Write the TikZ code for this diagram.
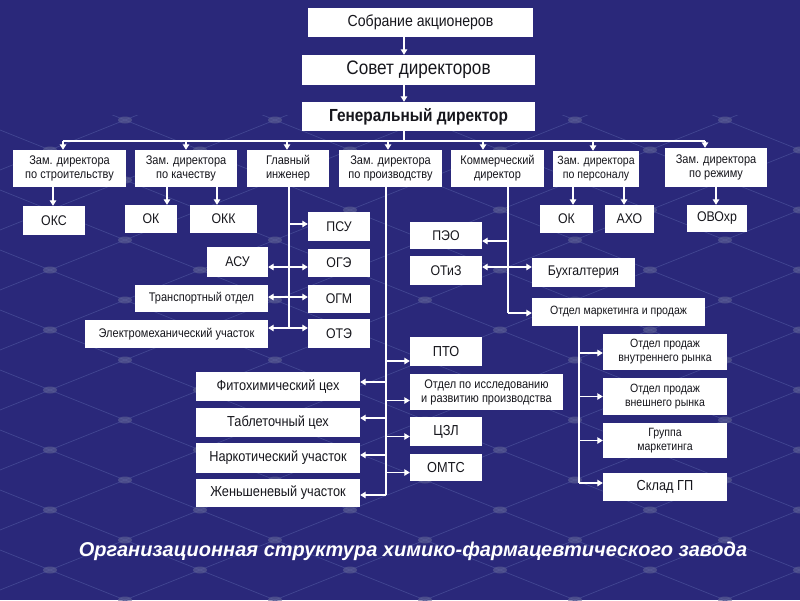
\documentclass[tikz,border=0pt]{standalone}
\usepackage{fontspec}
\setmainfont{Liberation Sans}
\newfontfamily\boxfont{Liberation Sans}[FakeStretch=0.88]
\usetikzlibrary{arrows.meta,calc}
\definecolor{bg}{RGB}{42,40,122}
\definecolor{netc}{RGB}{70,74,150}
\definecolor{dotc}{RGB}{96,100,150}
\definecolor{ink}{RGB}{22,22,28}
\newcommand\fs[2]{\boxfont\fontsize{#1}{#2}\selectfont}
\newcommand\bx[7]{\node[box,font={#2},minimum width={#5-#3},minimum height={#6-#4}] (#1) at ({(#3+#5)/2},{(#4+#6)/2}) {#7};}
\newcommand\hl[4]{\draw[#1] ($(#2 |- #3)+(0,#4)$) -- ($(#3)+(0,#4)$);}
\tikzset{
  box/.style={fill=white, inner sep=0.5pt, align=center, text=ink},
  ln/.style={draw=white, line width=1.1pt},
  arr/.style={ln, -{Triangle[length=5.5pt,width=6.5pt]}},
  darr/.style={ln, {Triangle[length=5.5pt,width=6.5pt]}-{Triangle[length=5.5pt,width=6.5pt]}},
  netline/.style={draw=netc, line width=0.6pt},
}
\begin{document}
\begin{tikzpicture}[x=1pt,y=-1pt]
\fill[bg] (0,0) rectangle (800,600);
\useasboundingbox (0,0) rectangle (800,600);
% background net
\begin{scope}
\clip (0,115) rectangle (800,600);
\foreach \i in {0,...,20} {
  \draw[netline] ({-1400+150*\i},110) -- ++(1500,600);
  \draw[netline] ({-600+150*\i},110) -- ++(-1500,600);
}
\foreach \k in {-5,...,16} {
  \foreach \n in {13,...,24} {
    \pgfmathtruncatemacro\pty{mod(\n+\k+20,2)}
    \ifnum\pty=0
      \fill[dotc, opacity=0.6] ({-1000+75*\n},{270+30*\k}) ellipse (7 and 3.5);
    \fi
  }
}
\end{scope}
% top chain
\bx{sob}{\fs{16}{19}}{308}{8}{533}{37}{Собрание акционеров}
\bx{sov}{\fs{19.5}{22}}{302}{55}{535}{85}{Совет директоров}
\bx{gd}{\fs{17.5}{20}\bfseries}{302}{102}{535}{131}{Генеральный директор}
% level 2
\bx{zs}{\fs{12.5}{14}}{13}{150}{126}{187}{Зам. директора\\по строительству}
\bx{zk}{\fs{12.5}{14}}{135}{150}{237}{187}{Зам. директора\\по качеству}
\bx{gi}{\fs{12.5}{14}}{247}{150}{329}{187}{Главный\\инженер}
\bx{zp}{\fs{12.5}{14}}{339}{150}{442}{187}{Зам. директора\\по производству}
\bx{kd}{\fs{12.5}{14}}{451}{150}{544}{187}{Коммерческий\\директор}
\bx{zpe}{\fs{12}{14}}{553}{151}{639}{187}{Зам. директора\\по персоналу}
\bx{zr}{\fs{12.5}{14}}{665}{148}{767}{187}{Зам. директора\\по режиму}
% level 3
\bx{oks}{\fs{14}{16}}{23}{206}{85}{235}{ОКС}
\bx{ok1}{\fs{14}{16}}{125}{205}{177}{233}{ОК}
\bx{okk}{\fs{14}{16}}{190}{205}{257}{233}{ОКК}
\bx{ok2}{\fs{14}{16}}{540}{205}{593}{233}{ОК}
\bx{axo}{\fs{14}{16}}{605}{205}{654}{233}{АХО}
\bx{ovo}{\fs{14}{16}}{687}{205}{747}{232}{ОВОхр}
% chief engineer
\bx{psu}{\fs{14}{16}}{308}{212}{370}{241}{ПСУ}
\bx{oge}{\fs{14}{16}}{308}{249}{370}{277}{ОГЭ}
\bx{ogm}{\fs{14}{16}}{308}{285}{370}{313}{ОГМ}
\bx{ote}{\fs{14}{16}}{308}{319}{370}{348}{ОТЭ}
\bx{asu}{\fs{14}{16}}{207}{247}{268}{277}{АСУ}
\bx{trans}{\fs{12.5}{14}}{135}{285}{268}{312}{Транспортный отдел}
\bx{elm}{\fs{12.5}{14}}{85}{320}{268}{348}{Электромеханический участок}
% production
\bx{pto}{\fs{14.5}{16}}{410}{337}{482}{366}{ПТО}
\bx{ord}{\fs{12.5}{14}}{410}{374}{563}{410}{Отдел по исследованию\\и развитию производства}
\bx{czl}{\fs{14.5}{16}}{410}{417}{482}{446}{ЦЗЛ}
\bx{omts}{\fs{14.5}{16}}{410}{454}{482}{481}{ОМТС}
\bx{fito}{\fs{14.5}{16}}{196}{372}{360}{401}{Фитохимический цех}
\bx{tab}{\fs{14.5}{16}}{196}{408}{360}{437}{Таблеточный цех}
\bx{nark}{\fs{14.5}{16}}{196}{443}{360}{473}{Наркотический участок}
\bx{zhen}{\fs{14.5}{16}}{196}{479}{360}{507}{Женьшеневый участок}
% commercial
\bx{peo}{\fs{14}{16}}{410}{222}{482}{249}{ПЭО}
\bx{otiz}{\fs{14}{16}}{410}{256}{482}{285}{ОТиЗ}
\bx{buh}{\fs{14}{16}}{532}{258}{635}{287}{Бухгалтерия}
\bx{mkt}{\fs{12}{14}}{532}{298}{705}{326}{Отдел маркетинга и продаж}
\bx{vnu}{\fs{12}{14}}{603}{334}{727}{370}{Отдел продаж\\внутреннего рынка}
\bx{vne}{\fs{12}{14}}{603}{378}{727}{415}{Отдел продаж\\внешнего рынка}
\bx{grp}{\fs{12}{14}}{603}{423}{727}{458}{Группа\\маркетинга}
\bx{skl}{\fs{14.5}{16}}{603}{473}{727}{501}{Склад ГП}
% title
\node[font=\fontsize{20}{24}\selectfont\bfseries\itshape, text=white] (title) at (413,551) {Организационная структура химико-фармацевтического завода};
% coordinates
\coordinate (tx) at (404,0);
\coordinate (b1) at (63,141);
\coordinate (b2) at (186,141);
\coordinate (b3) at (287,141);
\coordinate (b4) at (388,141);
\coordinate (b5) at (483,141);
\coordinate (b6) at (593,141);
\coordinate (b7) at (705,141);
\coordinate (c1) at (53,0);
\coordinate (c2) at (167,0);
\coordinate (c3) at (217,0);
\coordinate (c4) at (573,0);
\coordinate (c5) at (624,0);
\coordinate (c6) at (716,0);
\coordinate (gx) at (289,328);
\coordinate (px) at (386,495);
\coordinate (kx) at (508,313);
\coordinate (mx) at (579,483);
% top connectors
\draw[arr] (tx |- sob.south) -- (tx |- sov.north);
\draw[arr] (tx |- sov.south) -- (tx |- gd.north);
\draw[ln] (tx |- gd.south) -- (tx |- b1);
\draw[ln] (b1) -- (b7);
\draw[arr] (b1) -- (b1 |- zs.north);
\draw[arr] (b2) -- (b2 |- zk.north);
\draw[arr] (b3) -- (b3 |- gi.north);
\draw[arr] (b4) -- (b4 |- zp.north);
\draw[arr] (b5) -- (b5 |- kd.north);
\draw[arr] (b6) -- (b6 |- zpe.north);
\draw[arr] (b7) -- (b7 |- zr.north);
% level 3 connectors
\draw[arr] (c1 |- zs.south) -- (c1 |- oks.north);
\draw[arr] (c2 |- zk.south) -- (c2 |- ok1.north);
\draw[arr] (c3 |- zk.south) -- (c3 |- okk.north);
\draw[arr] (c4 |- zpe.south) -- (c4 |- ok2.north);
\draw[arr] (c5 |- zpe.south) -- (c5 |- axo.north);
\draw[arr] (c6 |- zr.south) -- (c6 |- ovo.north);
% chief engineer branch
\draw[ln] (gx |- gi.south) -- (gx);
\hl{arr}{gx}{psu.west}{-2.5}
\hl{darr}{asu.east}{oge.west}{4}
\hl{darr}{trans.east}{ogm.west}{-2}
\hl{darr}{elm.east}{ote.west}{-5.5}
% production branch
\draw[ln] (px |- zp.south) -- (px);
\hl{arr}{px}{pto.west}{9.5}
\hl{arr}{px}{ord.west}{8.5}
\hl{arr}{px}{czl.west}{5}
\hl{arr}{px}{omts.west}{5}
\hl{arr}{px}{fito.east}{-4.5}
\hl{arr}{px}{tab.east}{-4.5}
\hl{arr}{px}{nark.east}{-3}
\hl{arr}{px}{zhen.east}{2}
% commercial branch
\draw[ln] (kx |- kd.south) -- (kx);
\hl{arr}{kx}{peo.east}{5.5}
\hl{darr}{otiz.east}{buh.west}{-5.5}
\hl{arr}{kx}{mkt.west}{1}
% marketing branch
\draw[ln] (mx |- mkt.south) -- (mx);
\hl{arr}{mx}{vnu.west}{1}
\hl{arr}{mx}{vne.west}{0}
\hl{arr}{mx}{grp.west}{0}
\hl{arr}{mx}{skl.west}{-4}
\end{tikzpicture}
\end{document}
